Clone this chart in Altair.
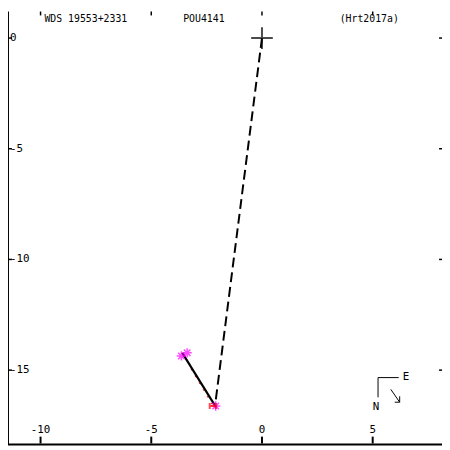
import altair as alt
import pandas as pd

# ---- data ----
x_ticks = [-10, -5, 0, 5]
y_ticks = [0, -5, -10, -15]
primary_x = [0.0]
primary_y = [0.0]
# connector (dashed) from primary to last point
dash_x = [0.0, -2.1]
dash_y = [0.0, -16.45]
# measurement track (solid)
track_x = [-3.6, -2.08]
track_y = [-14.22, -16.67]
# magenta measurements
meas_x = [-3.64, -3.38, -2.09]
meas_y = [-14.36, -14.22, -16.62]
# red marker
red_x = [-2.22]
red_y = [-16.62]
red_line_x = [-3.2, -2.25]
red_line_y = [-14.95, -16.55]

header = ["WDS 19553+2331", "POU4141", "(Hrt2017a)"]

W, H = 441, 440
xs = alt.Scale(domain=[-11.47, 8.13], nice=False, zero=False)
ys = alt.Scale(domain=[-18.36, 1.2], nice=False, zero=False)
FONT = "DejaVu Sans Mono"

prim = pd.DataFrame({"x": primary_x, "y": primary_y})
base = alt.Chart(prim).mark_point(
    shape="M-1,0L1,0M0,-1L0,1", size=484, strokeWidth=2, color="black", filled=False
).encode(x=alt.X("x:Q", scale=xs, axis=None), y=alt.Y("y:Q", scale=ys, axis=None))

dash = alt.Chart(pd.DataFrame({"x": dash_x, "y": dash_y, "o": [0, 1]})).mark_line(
    color="black", strokeWidth=2, strokeDash=[10, 5]
).encode(x=alt.X("x:Q", scale=xs, axis=None), y=alt.Y("y:Q", scale=ys, axis=None), order="o:O")

redline = alt.Chart(pd.DataFrame({"x": red_line_x, "y": red_line_y, "o": [0, 1]})).mark_line(
    color="red", strokeWidth=1, strokeDash=[2, 6]
).encode(x=alt.X("x:Q", scale=xs, axis=None), y=alt.Y("y:Q", scale=ys, axis=None), order="o:O")

track = alt.Chart(pd.DataFrame({"x": track_x, "y": track_y, "o": [0, 1]})).mark_line(
    color="black", strokeWidth=2.2
).encode(x=alt.X("x:Q", scale=xs, axis=None), y=alt.Y("y:Q", scale=ys, axis=None), order="o:O")

meas = alt.Chart(pd.DataFrame({"x": meas_x, "y": meas_y})).mark_point(
    shape="M-1,0L1,0M0,-1L0,1M-0.7,-0.7L0.7,0.7M-0.7,0.7L0.7,-0.7",
    size=90, strokeWidth=1.5, color="magenta", filled=False
).encode(x=alt.X("x:Q", scale=xs, axis=None), y=alt.Y("y:Q", scale=ys, axis=None))

red = alt.Chart(pd.DataFrame({"x": red_x, "y": red_y})).mark_point(
    shape="M-1,-1L-1,1M1,-1L1,1M-1,0L1,0", size=40, strokeWidth=2, color="red", filled=False
).encode(x=alt.X("x:Q", scale=xs, axis=None), y=alt.Y("y:Q", scale=ys, axis=None))

xt = pd.DataFrame({"v": x_ticks, "lab": [str(v) for v in x_ticks]})
yt = pd.DataFrame({"v": y_ticks, "lab": [str(v) for v in y_ticks]})

# frame (left and bottom edges only)
left_edge = alt.Chart(prim).mark_rule(color="black", strokeWidth=2).encode(
    x=alt.value(0), y=alt.value(0), y2=alt.value(H))
bottom_edge = alt.Chart(prim).mark_rule(color="black", strokeWidth=2).encode(
    x=alt.value(0), x2=alt.value(W), y=alt.value(H))

top_ticks = alt.Chart(xt).mark_rule(color="black", strokeWidth=1.5).encode(
    x=alt.X("v:Q", scale=xs, axis=None), y=alt.value(0), y2=alt.value(4))
bot_ticks = alt.Chart(xt).mark_rule(color="black", strokeWidth=2).encode(
    x=alt.X("v:Q", scale=xs, axis=None), y=alt.value(H - 8), y2=alt.value(H - 1))
bot_labels = alt.Chart(xt).mark_text(font=FONT, fontSize=11, color="black", baseline="middle",
                                     align="center").encode(
    x=alt.X("v:Q", scale=xs, axis=None), y=alt.value(H - 15), text="lab:N")
left_ticks = alt.Chart(yt).mark_rule(color="black", strokeWidth=1.5).encode(
    y=alt.Y("v:Q", scale=ys, axis=None), x=alt.value(0), x2=alt.value(4))
right_ticks = alt.Chart(yt).mark_rule(color="black", strokeWidth=1.5).encode(
    y=alt.Y("v:Q", scale=ys, axis=None), x=alt.value(W - 3), x2=alt.value(W))
left_labels = alt.Chart(yt).mark_text(font=FONT, fontSize=11, color="black", baseline="middle",
                                      align="left").encode(
    y=alt.Y("v:Q", scale=ys, axis=None), x=alt.value(2), text="lab:N")

hdr = pd.DataFrame({"t": header, "px": [37, 178, 337]})
header_text = alt.Chart(hdr).mark_text(font=FONT, fontSize=10, color="black", align="left",
                                       baseline="middle").encode(
    x=alt.X("px:Q", scale=None, axis=None), y=alt.value(8), text="t:N")

# compass
c1 = alt.Chart(prim).mark_rule(color="black", strokeWidth=1).encode(
    x=alt.value(376), x2=alt.value(397), y=alt.value(372))
c2 = alt.Chart(prim).mark_rule(color="black", strokeWidth=1).encode(
    x=alt.value(376), y=alt.value(372), y2=alt.value(392))
c3 = alt.Chart(prim).mark_rule(color="black", strokeWidth=1).encode(
    x=alt.value(389), x2=alt.value(398), y=alt.value(384), y2=alt.value(397))
c4 = alt.Chart(prim).mark_rule(color="black", strokeWidth=1).encode(
    x=alt.value(398), y=alt.value(391), y2=alt.value(397))
c5 = alt.Chart(prim).mark_rule(color="black", strokeWidth=1).encode(
    x=alt.value(393), x2=alt.value(398), y=alt.value(397))
cE = alt.Chart(pd.DataFrame({"t": ["E"]})).mark_text(font=FONT, fontSize=11, color="black",
                                                    align="left", baseline="middle").encode(
    x=alt.value(401), y=alt.value(371), text="t:N")
cN = alt.Chart(pd.DataFrame({"t": ["N"]})).mark_text(font=FONT, fontSize=11, color="black",
                                                    align="center", baseline="middle").encode(
    x=alt.value(374), y=alt.value(402), text="t:N")

chart = alt.layer(
    base, dash, redline, track, meas, red, left_edge, bottom_edge,
    top_ticks, bot_ticks, bot_labels, left_ticks, right_ticks, left_labels,
    header_text, c1, c2, c3, c4, c5, cE, cN
).properties(
    width=W, height=H, autosize=alt.AutoSizeParams(type="none"), padding=0,
    background="white"
).configure_view(stroke=None)

chart.save("out.html", embed_options={"renderer": "svg", "actions": False})
